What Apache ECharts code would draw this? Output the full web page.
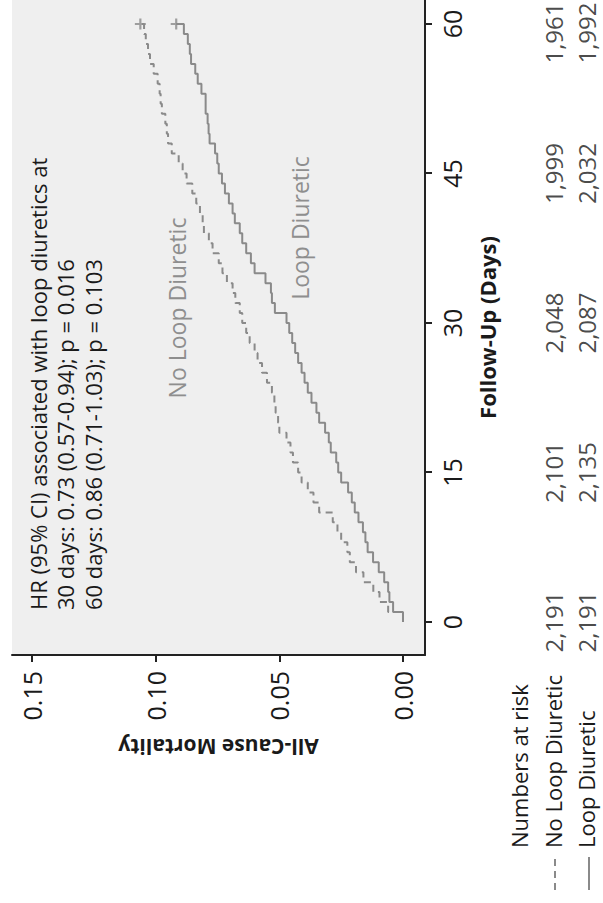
<!DOCTYPE html>
<html><head><meta charset="utf-8">
<script src="https://cdn.jsdelivr.net/npm/echarts@6/dist/echarts.min.js"></script>
<style>
html,body{margin:0;padding:0;width:603px;height:903px;overflow:hidden;background:#fff;}
#chart{position:absolute;left:0;top:0;width:903px;height:603px;transform-origin:0 0;transform:rotate(-90deg) translateX(-903px);}
</style></head><body><div id="chart"></div>
<script>
// Follow-up days (x) and cumulative all-cause mortality
const days = [0,1,2,3,4,5,6,7,8,9,10,11,12,13,14,15,16,17,18,19,20,21,22,23,24,25,26,27,28,29,30,31,32,33,34,35,36,37,38,39,40,41,42,43,44,45,46,47,48,49,50,51,52,53,54,55,56,57,58,59,60];
const noLoopDiuretic = [0,0.0060,0.0095,0.0120,0.0160,0.0190,0.0215,0.0225,0.0250,0.0265,0.0284,0.0339,0.0362,0.0385,0.0410,0.0424,0.0445,0.0455,0.0471,0.0500,0.0505,0.0515,0.0520,0.0530,0.0550,0.0570,0.0588,0.0600,0.0620,0.0634,0.0650,0.0660,0.0678,0.0689,0.0712,0.0730,0.0745,0.0770,0.0785,0.0805,0.0810,0.0821,0.0836,0.0852,0.0875,0.0891,0.0907,0.0935,0.0950,0.0955,0.0961,0.0975,0.0980,0.0984,0.0992,0.1008,0.1023,0.1031,0.1040,0.1047,0.1062];
const loopDiuretic = [0,0.0040,0.0055,0.0060,0.0076,0.0098,0.0121,0.0143,0.0152,0.0162,0.0180,0.0195,0.0207,0.0222,0.0250,0.0262,0.0270,0.0292,0.0300,0.0315,0.0339,0.0350,0.0370,0.0385,0.0398,0.0410,0.0424,0.0436,0.0448,0.0460,0.0471,0.0518,0.0530,0.0534,0.0556,0.0600,0.0615,0.0634,0.0650,0.0660,0.0680,0.0689,0.0704,0.0720,0.0732,0.0745,0.0751,0.0760,0.0782,0.0786,0.0790,0.0798,0.0798,0.0815,0.0830,0.0840,0.0857,0.0862,0.0870,0.0886,0.0917];
const timeTicks = [0,15,30,45,60];
const mortalityTicks = [0,0.05,0.10,0.15];
const riskGroups = ['No Loop Diuretic','Loop Diuretic'];
const riskTimes = [0,15,30,45,60];
const riskNoLoop = [2191,2101,2048,1999,1961];
const riskLoop = [2191,2135,2087,2032,1992];
const hrLines = ['HR (95% CI) associated with loop diuretics at','30 days: 0.73 (0.57-0.94); p = 0.016','60 days: 0.86 (0.71-1.03); p = 0.103'];

const FONT = 'Open Sans';
const INK = '#1a1a1a';
const CURVE = '#8a8a8a';
const fmt = n => n.toLocaleString('en-US');

const chart = echarts.init(document.getElementById('chart'), null, {renderer:'svg', width:903, height:603});
const lastT = riskTimes[riskTimes.length-1];
const riskData = [];
[riskNoLoop, riskLoop].forEach((arr,g)=>{
  riskTimes.forEach((t,i)=>{
    const item = {value:[t, riskGroups[g], arr[i]]};
    if (t === lastT) item.label = {offset:[-9,0]};
    riskData.push(item);
  });
});

chart.setOption({
  animation:false,
  textStyle:{fontFamily:FONT},
  grid:[
    {left:248, right:0, top:12, bottom:178, show:true, backgroundColor:'#efefef', borderWidth:0},
    {left:248, right:0, top:536.5, height:70}
  ],
  xAxis:[
    {type:'value', gridIndex:0, min:-3.31, max:62.41,
     axisLine:{onZero:false, lineStyle:{color:'#222', width:2}},
     axisTick:{customValues:timeTicks, length:7, lineStyle:{color:'#222', width:2}},
     axisLabel:{customValues:timeTicks, fontSize:25, margin:14, color:INK, fontFamily:FONT},
     splitLine:{show:false},
     name:'Follow-Up (Days)', nameLocation:'middle', nameGap:51,
     nameTextStyle:{fontSize:22, fontWeight:'bold', color:INK, fontFamily:FONT}},
    {type:'value', gridIndex:1, min:-3.31, max:62.41, show:false}
  ],
  yAxis:[
    {type:'value', gridIndex:0, min:-0.0089, max:0.1581,
     axisLine:{show:true, onZero:false, lineStyle:{color:'#222', width:2}},
     axisTick:{show:true, customValues:mortalityTicks, length:7, lineStyle:{color:'#222', width:2}},
     axisLabel:{customValues:mortalityTicks, formatter:v=>v.toFixed(2), fontSize:25, margin:16, color:INK, fontFamily:FONT},
     splitLine:{show:false},
     name:'All-Cause Mortality', nameLocation:'middle', nameRotate:90, nameGap:81,
     nameTextStyle:{fontSize:21, fontWeight:'bold', color:INK, fontFamily:FONT}},
    {type:'category', gridIndex:1, data:riskGroups, inverse:true,
     axisLine:{show:false}, axisTick:{show:false},
     axisLabel:{align:'left', margin:193, fontSize:22, color:INK, fontFamily:FONT}}
  ],
  series:[
    {type:'line', name:'No Loop Diuretic', xAxisIndex:0, yAxisIndex:0, step:'end', showSymbol:false,
     data:days.map((d,i)=>[d,noLoopDiuretic[i]]),
     lineStyle:{color:CURVE, width:2, type:[7,5]}},
    {type:'line', name:'Loop Diuretic', xAxisIndex:0, yAxisIndex:0, step:'end', showSymbol:false,
     data:days.map((d,i)=>[d,loopDiuretic[i]]),
     lineStyle:{color:CURVE, width:2}},
    {type:'scatter', xAxisIndex:0, yAxisIndex:0,
     symbol:'path://M4,0H6V4H10V6H6V10H4V6H0V4H4Z', symbolSize:11,
     itemStyle:{color:CURVE},
     data:[[days[days.length-1], noLoopDiuretic[noLoopDiuretic.length-1]],[days[days.length-1], loopDiuretic[loopDiuretic.length-1]]]},
    {type:'scatter', xAxisIndex:1, yAxisIndex:1, symbolSize:1,
     itemStyle:{color:'rgba(0,0,0,0)'},
     data:riskData,
     label:{show:true, position:'inside', formatter:p=>fmt(p.value[2]), fontSize:24, color:INK, fontFamily:FONT}}
  ],
  graphic:[
    {type:'text', x:55, y:519, style:{text:'Numbers at risk', fontSize:22, fontFamily:FONT, fill:INK, verticalAlign:'middle'}},
    {type:'line', shape:{x1:13, y1:555, x2:46, y2:555}, style:{stroke:CURVE, lineWidth:2, lineDash:[7,5]}},
    {type:'line', shape:{x1:13, y1:589, x2:46, y2:589}, style:{stroke:CURVE, lineWidth:2}},
    {type:'text', x:293, y:24, style:{text:hrLines.join('\n'), fontSize:22, lineHeight:27.5, fontFamily:FONT, fill:INK, verticalAlign:'top'}},
    {type:'text', x:595, y:177, style:{text:'No Loop Diuretic', fontSize:23, fontFamily:FONT, fill:'#8e8e8e', align:'center', verticalAlign:'middle'}},
    {type:'text', x:675, y:300, style:{text:'Loop Diuretic', fontSize:23, fontFamily:FONT, fill:'#8e8e8e', align:'center', verticalAlign:'middle'}}
  ]
});
</script></body></html>
